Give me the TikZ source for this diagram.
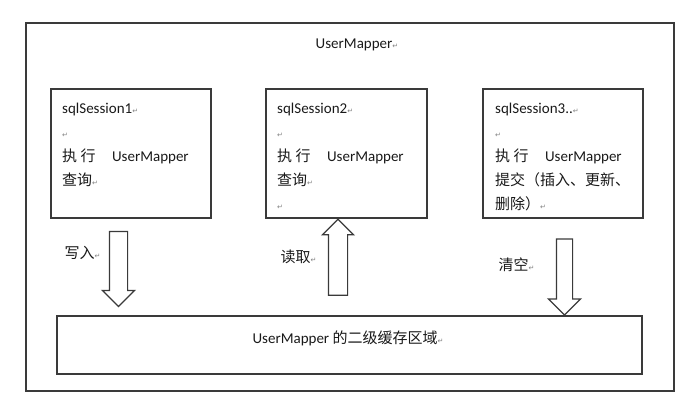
\documentclass[tikz,border=0pt]{standalone}
\usepackage{fontspec}
\setmainfont{Carlito}
\newfontfamily\cjk{Noto Sans CJK SC}
\newfontfamily\symb{DejaVu Sans}
\usepackage{tikz}
\usetikzlibrary{shapes.arrows, positioning}
\definecolor{frameline}{HTML}{3A3A3A}
\newcommand{\zh}[1]{{\cjk #1}}
\newcommand{\retmark}{{\symb\fontsize{7}{7}\selectfont\color{gray}↵}}

\begin{document}
\begin{tikzpicture}[x=1pt, y=1pt, font=\fontsize{15}{24}\selectfont,
    box/.style={draw=frameline, line width=1.6pt, rectangle, inner sep=0},
    blockarrow/.style={single arrow, draw=frameline, line width=1.2pt, inner xsep=0, minimum width=0, single arrow head extend=7pt},
    boxtext/.style={anchor=north west, align=left, inner sep=0, text=black!90}]
    \useasboundingbox (0,0) rectangle (685,401);
    % outer mapper frame
    \node[box, minimum width=648, minimum height=368, anchor=north west] (mapper) at (25,379) {};
    \node[text=black!90] (title) at (357,356) {UserMapper\retmark};
    % three sessions
    \node[box, minimum width=160, minimum height=129, anchor=north west] (s1) at (50,313) {};
    \node[box, minimum width=161, minimum height=129, anchor=north west] (s2) at (265,313) {};
    \node[box, minimum width=160, minimum height=129, anchor=north west] (s3) at (482,313) {};
    \node[boxtext] (t1) at ([shift={(12,-15)}]s1.north west) {sqlSession1\retmark\\ \retmark\\ \zh{执\ 行}\hspace{1.1em}UserMapper\\ \zh{查询}\retmark};
    \node[boxtext] (t2) at ([shift={(12,-15)}]s2.north west) {sqlSession2\retmark\\ \retmark\\ \zh{执\ 行}\hspace{1.1em}UserMapper\\ \zh{查询}\retmark\\ \retmark};
    \node[boxtext] (t3) at ([shift={(13,-15)}]s3.north west) {sqlSession3..\retmark\\ \retmark\\ \zh{执\ 行}\hspace{1.1em}UserMapper\\ \zh{提交（插入、更新、}\\ \zh{删除）}\retmark};
    % second level cache
    \node[box, minimum width=585, minimum height=58, anchor=north west] (cache) at (56,86) {};
    \node[text=black!90] (cachetext) at (348,63) {UserMapper \zh{的二级缓存区域}\retmark};
    % write / read / clear
    \node[blockarrow, minimum height=75, inner ysep=8.5pt, rotate=-90] (write) at (118.5,136.5) {};
    \node[blockarrow, minimum height=76, inner ysep=9pt, single arrow head extend=6pt, rotate=90] (read) at (338,139) {};
    \node[blockarrow, minimum height=76, inner ysep=7.5pt, single arrow head extend=8pt, rotate=-90] (clear) at (564.5,128) {};
    \node[anchor=west, text=black!90] (writelbl) at (61,148) {\zh{写入}\retmark};
    \node[anchor=west, text=black!90] (readlbl) at (277,144) {\zh{读取}\retmark};
    \node[anchor=west, text=black!90] (clearlbl) at (495,136) {\zh{清空}\retmark};
\end{tikzpicture}
\end{document}
